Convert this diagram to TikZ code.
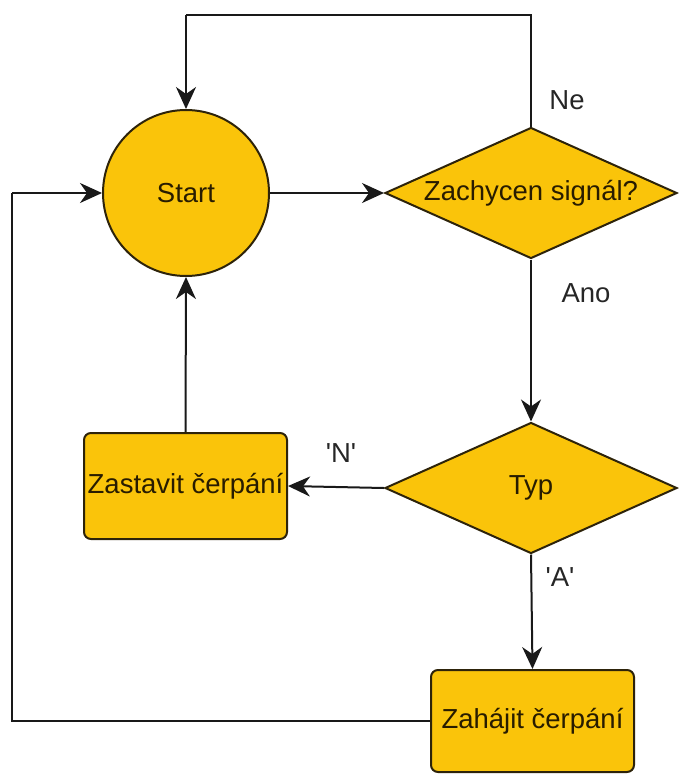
\documentclass[tikz,border=0pt]{standalone}
\usepackage{fontspec}
\newfontfamily\arial{Liberation Sans}
\usetikzlibrary{shapes.geometric,arrows.meta}
\definecolor{gold}{RGB}{250,196,10}
\definecolor{edge}{RGB}{45,35,10}
\definecolor{ntext}{RGB}{40,28,0}
\begin{document}
\begin{tikzpicture}[x=1pt,y=-1pt,
  every node/.style={font=\arial\fontsize{27.5}{32}\selectfont},
  shapebox/.style={draw=edge,fill=gold,line width=2pt},
  rbox/.style={shapebox,rectangle,rounded corners=7pt,minimum width=203pt,inner sep=0pt},
  dbox/.style={shapebox,diamond,minimum width=292pt,minimum height=131pt,inner sep=0pt},
  intext/.style={text=ntext,inner sep=0pt},
  lbl/.style={text=black!85,inner sep=0pt},
  conn/.style={line width=2pt,draw=black!90,-{Stealth[length=22pt,width=20pt,inset=7pt]}},
  line/.style={line width=2pt,draw=black!90}]
\useasboundingbox (0,0) rectangle (678,774);
% nodes
\node[shapebox,circle,minimum size=166pt,inner sep=0pt] (start) at (186,193) {};
\node[intext] at (start) {Start};
\node[dbox] (q1) at (531,193) {};
\node[intext] at (q1) {Zachycen signál?};
\node[dbox] (q2) at (531,488) {};
\node[intext] at (q2) {Typ};
\node[rbox,minimum height=106pt] (stop) at (185.5,486) {};
\node[intext] at (stop) {Zastavit čerpání};
\node[rbox,minimum height=102pt] (go) at (532.5,721) {};
\node[intext] at (go) {Zahájit čerpání};
% corner coordinates
\coordinate (c1) at (531,15);
\coordinate (c2) at (186,15);
\coordinate (c3) at (12,721);
\coordinate (c4) at (12,193);
% connectors
\draw[conn] (start.east) -- (q1.west);
\draw[line] (q1.north) -- (c1) -- (c2);
\draw[conn] (c2) -- (start.north);
\draw[conn] (q1.south) -- (q2.north);
\draw[conn] (q2.west) -- (stop.east);
\draw[conn] (stop.north) -- (start.south);
\draw[conn] (q2.south) -- (go.north);
\draw[line] (go.west) -- (c3) -- (c4);
\draw[conn] (c4) -- (start.west);
% labels
\node[lbl] (lne) at (567,100) {Ne};
\node[lbl] (lano) at (586,293) {Ano};
\node[lbl] (ln) at (341,453) {'N'};
\node[lbl] (la) at (560,577) {'A'};
\end{tikzpicture}
\end{document}
